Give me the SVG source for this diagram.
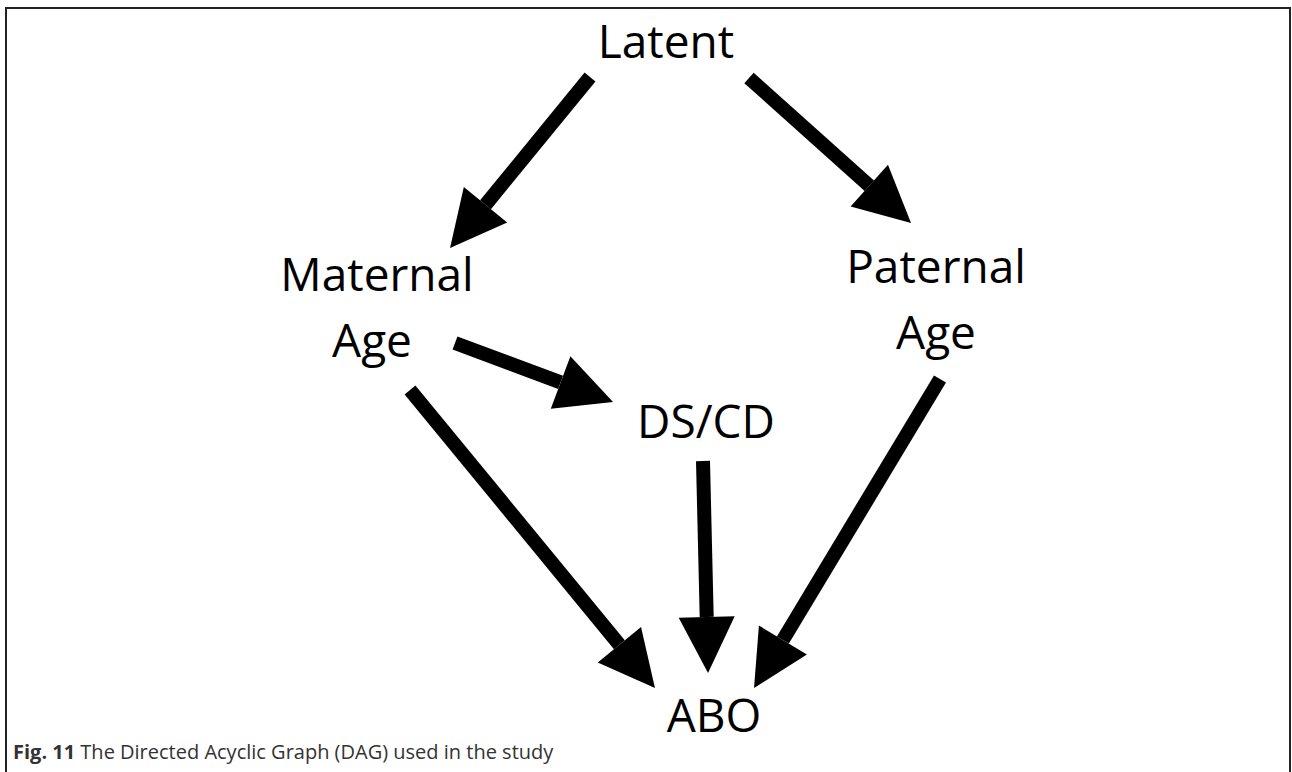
<svg xmlns="http://www.w3.org/2000/svg" width="1292" height="772" viewBox="0 0 1292 772">
<style>
.lbl{font-family:"Open Sans","DejaVu Sans",sans-serif;font-size:46px;fill:#000;text-anchor:middle}
.edge{stroke:#000;stroke-width:14;fill:none;marker-end:url(#ah)}
.cap{font-family:"Open Sans","Liberation Sans",sans-serif;font-size:20px;fill:#333}
</style>
<defs>
<marker id="ah" markerUnits="userSpaceOnUse" markerWidth="56" markerHeight="56" refX="0" refY="28" orient="auto" viewBox="0 0 56 56" overflow="visible">
<path d="M0,0 L56,28 L0,56 z" fill="#000"/>
</marker>
</defs>
<rect width="1292" height="772" fill="#fff"/>
<path d="M6,772 V8 H1290 V772" fill="none" stroke="#222" stroke-width="2"/>
<g id="connectors">
<line class="edge" x1="590" y1="77" x2="485.5" y2="204.7"/>
<line class="edge" x1="749" y1="78" x2="869.3" y2="185.7"/>
<line class="edge" x1="455" y1="343" x2="560.6" y2="382.4"/>
<line class="edge" x1="410" y1="390" x2="619.4" y2="644.7"/>
<line class="edge" x1="703" y1="461" x2="706.7" y2="617"/>
<line class="edge" x1="940" y1="379" x2="782.9" y2="640"/>
</g>
<g id="latent"><text class="lbl" x="666" y="58">Latent</text></g>
<g id="maternal"><text class="lbl" x="377" y="291">Maternal</text><text class="lbl" x="372" y="357">Age</text></g>
<g id="paternal"><text class="lbl" x="936" y="283">Paternal</text><text class="lbl" x="936" y="349">Age</text></g>
<g id="dscd"><text class="lbl" x="706" y="438">DS/CD</text></g>
<g id="abo"><text class="lbl" x="714" y="732">ABO</text></g>
<g id="caption"><text class="cap" x="13" y="759"><tspan font-weight="bold">Fig. 11</tspan> The Directed Acyclic Graph (DAG) used in the study</text></g>
</svg>
